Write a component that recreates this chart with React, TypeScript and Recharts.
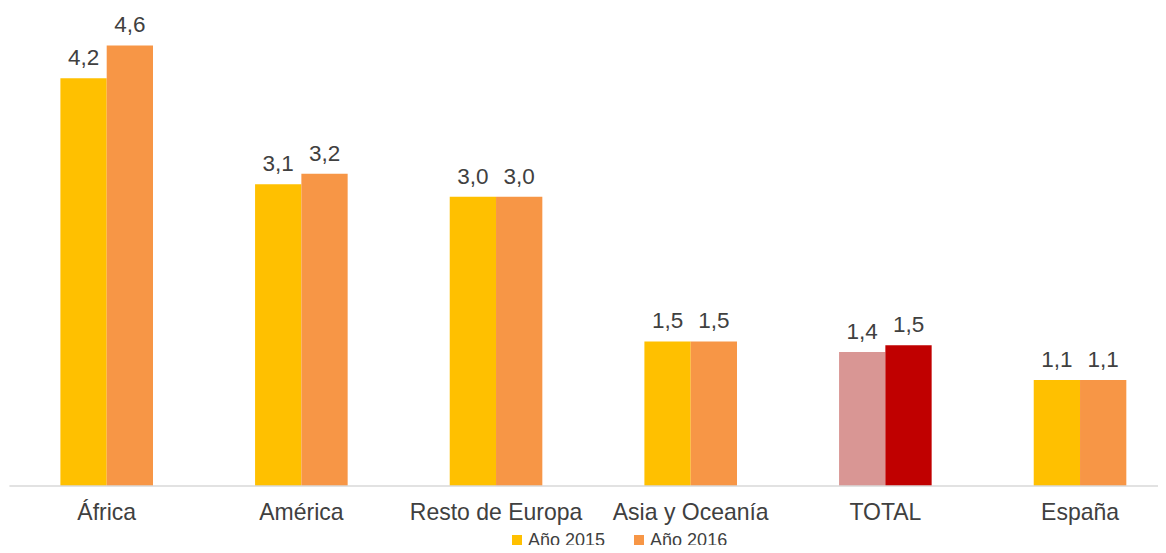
import { BarChart, Bar, XAxis, YAxis, Cell, LabelList, Legend } from "recharts";

const categories = ["África", "América", "Resto de Europa", "Asia y Oceanía", "TOTAL", "España"];
const year2015 = [4.23, 3.13, 3.0, 1.5, 1.39, 1.1];
const year2016 = [4.57, 3.24, 3.0, 1.5, 1.46, 1.1];
const seriesNames = ["Año 2015", "Año 2016"];

const data = categories.map((name, i) => ({
  name,
  y2015: year2015[i],
  y2016: year2016[i],
}));

const COLOR_2015 = "#FFC000";
const COLOR_2016 = "#F79646";
const TOTAL_2015 = "#D99694";
const TOTAL_2016 = "#C00000";
const TEXT = "#404040";

const fmt = (v: any) => Number(v).toFixed(1).replace(".", ",");

function LegendContent() {
  const items = [
    { label: seriesNames[0], color: COLOR_2015 },
    { label: seriesNames[1], color: COLOR_2016 },
  ];
  return (
    <div style={{ display: "flex", alignItems: "center", height: 20 }}>
      {items.map((it, i) => (
        <div
          key={it.label}
          style={{ display: "flex", alignItems: "center", marginRight: i === 0 ? 29 : 0 }}
        >
          <span style={{ width: 10, height: 10, background: it.color, marginRight: 6 }} />
          <span style={{ fontSize: 18, lineHeight: "20px", color: TEXT }}>{it.label}</span>
        </div>
      ))}
    </div>
  );
}

export default function App() {
  return (
    <div style={{ width: 1166, height: 553, overflow: "hidden", margin: -8, position: "relative" }}>
      <BarChart
        width={1177.4}
        height={553}
        data={data}
        margin={{ top: 4, right: 0, left: 9.4, bottom: 27 }}
        barGap={0}
        style={{ fontFamily: "'Liberation Sans', Arial, sans-serif" }}
      >
        <XAxis
          dataKey="name"
          height={40}
          axisLine={{ stroke: "#D9D9D9", strokeWidth: 1.3 }}
          tickLine={false}
          tickSize={0}
          tickMargin={18}
          interval={0}
          tick={{ fontSize: 23, fill: TEXT }}
        />
        <YAxis hide domain={[0, 5]} />
        <Legend
          verticalAlign="middle"
          content={() => <LegendContent />}
          wrapperStyle={{ top: 530, left: 512, width: "auto" }}
        />
        <Bar dataKey="y2015" name={seriesNames[0]} fill={COLOR_2015} barSize={46.3} isAnimationActive={false}>
          {data.map((d) => (
            <Cell key={d.name} fill={d.name === "TOTAL" ? TOTAL_2015 : COLOR_2015} />
          ))}
          <LabelList dataKey="y2015" position="top" offset={13} formatter={fmt} fill={TEXT} fontSize={22.5} />
        </Bar>
        <Bar dataKey="y2016" name={seriesNames[1]} fill={COLOR_2016} barSize={46.3} isAnimationActive={false}>
          {data.map((d) => (
            <Cell key={d.name} fill={d.name === "TOTAL" ? TOTAL_2016 : COLOR_2016} />
          ))}
          <LabelList dataKey="y2016" position="top" offset={13} formatter={fmt} fill={TEXT} fontSize={22.5} />
        </Bar>
      </BarChart>
    </div>
  );
}
